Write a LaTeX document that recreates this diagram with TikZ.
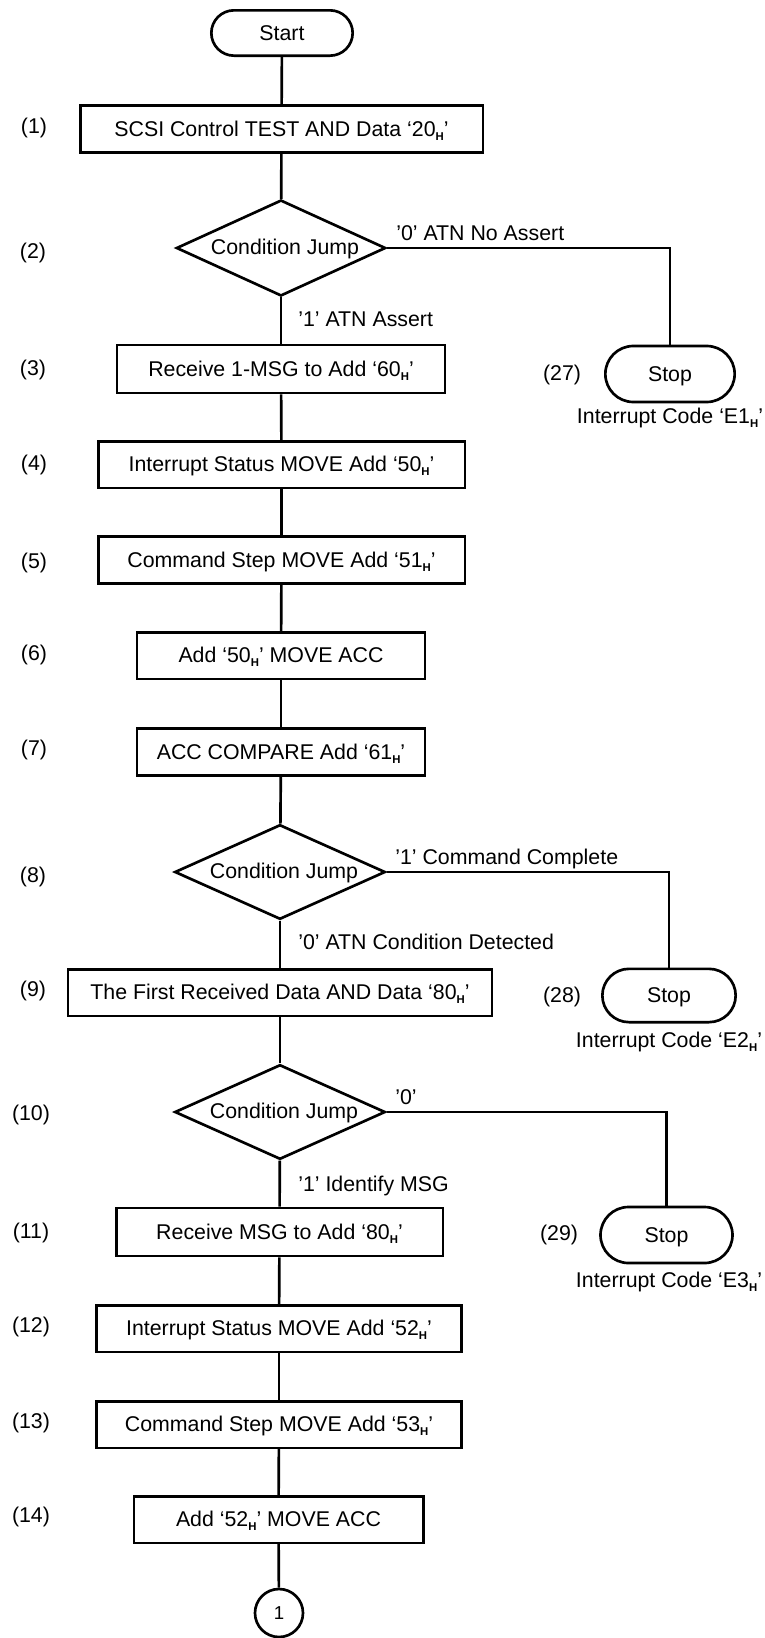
\documentclass[tikz,border=0pt]{standalone}
\usepackage{fontspec}
\setmainfont{Liberation Sans}
\usetikzlibrary{shapes.geometric,shapes.misc}
\newcommand{\Hs}{\raisebox{-3pt}{\fontsize{8.5}{8.5}\selectfont\bfseries H}}
\begin{document}
\begin{tikzpicture}[x=0.75pt,y=-0.75pt,
  every node/.style={font=\fontsize{16}{19}\selectfont},
  stepbox/.style={draw, line width=2pt, rectangle, inner sep=0pt, text height=11pt, text depth=0pt, minimum height=35pt},
  term/.style={draw, line width=2pt, rounded rectangle, inner sep=0pt, text height=11pt, text depth=0pt},
  cond/.style={draw, line width=2pt, diamond, inner sep=0pt, aspect=2.2, text height=9pt, text depth=0pt},
  conn/.style={line width=2pt},
  lbl/.style={inner sep=0pt},
  num/.style={inner sep=0pt}]
\useasboundingbox (0,0) rectangle (764,1638);
% main column
\node[term, minimum width=106pt, minimum height=34pt] (start) at (282,33) {Start};
\node[stepbox, minimum width=302pt] (b1) at (281.5,129) {SCSI Control TEST AND Data `20\Hs'};
\node[cond, minimum width=157pt, minimum height=72pt] (d2) at (281,248) {\hspace*{6pt}Condition Jump};
\node[stepbox, minimum width=246pt, minimum height=36pt] (b3) at (281,369) {Receive 1-MSG to Add `60\Hs'};
\node[stepbox, minimum width=275pt] (b4) at (281.5,464.5) {Interrupt Status MOVE Add `50\Hs'};
\node[stepbox, minimum width=275pt] (b5) at (281.5,560) {Command Step MOVE Add `51\Hs'};
\node[stepbox, minimum width=216pt] (b6) at (281,655.5) {Add `50\Hs' MOVE ACC};
\node[stepbox, minimum width=216pt] (b7) at (281,752) {ACC COMPARE Add `61\Hs'};
\node[cond, minimum width=158pt, minimum height=71pt] (d8) at (280,872) {\hspace*{6pt}Condition Jump};
\node[stepbox, minimum width=318pt] (b9) at (280,992.5) {The First Received Data AND Data `80\Hs'};
\node[cond, minimum width=158pt, minimum height=71pt] (d10) at (280,1112) {\hspace*{6pt}Condition Jump};
\node[stepbox, minimum width=245pt, minimum height=36pt] (b11) at (279.5,1232) {Receive MSG to Add `80\Hs'};
\node[stepbox, minimum width=274pt] (b12) at (279,1328.5) {Interrupt Status MOVE Add `52\Hs'};
\node[stepbox, minimum width=274pt] (b13) at (279,1424.5) {Command Step MOVE Add `53\Hs'};
\node[stepbox, minimum width=217pt] (b14) at (278.5,1519.5) {Add `52\Hs' MOVE ACC};
\node[draw, line width=2pt, circle, inner sep=0pt, minimum size=36pt, font=\fontsize{14}{16}\selectfont] (c1) at (279,1613) {1};
% stops
\node[term, minimum width=97pt, minimum height=42pt] (s27) at (670,374) {Stop};
\node[term, minimum width=100pt, minimum height=40pt] (s28) at (669,995.5) {Stop};
\node[term, minimum width=99pt, minimum height=42pt] (s29) at (666.5,1235) {Stop};
% connectors
\draw[conn] (start) -- (b1);
\draw[conn] (b1) -- (d2);
\draw[conn] (d2) -- (b3);
\draw[conn] (b3) -- (b4);
\draw[conn] (b4) -- (b5);
\draw[conn] (b5) -- (b6);
\draw[conn] (b6) -- (b7);
\draw[conn] (b7) -- (d8);
\draw[conn] (d8) -- (b9);
\draw[conn] (b9) -- (d10);
\draw[conn] (d10) -- (b11);
\draw[conn] (b11) -- (b12);
\draw[conn] (b12) -- (b13);
\draw[conn] (b13) -- (b14);
\draw[conn] (b14) -- (c1);
\draw[conn] (d2.east) -| (s27.north);
\draw[conn] (d8.east) -| (s28.north);
\draw[conn] (d10.east) -| (s29.north);
% branch labels
\node[lbl, anchor=base west] (a1) at (396,240) {'0' ATN No Assert};
\node[lbl, anchor=base west] (a2) at (298,326) {'1' ATN Assert};
\node[lbl, anchor=base west] (a3) at (395,864) {'1' Command Complete};
\node[lbl, anchor=base west] (a4) at (298,949) {'0' ATN Condition Detected};
\node[lbl, anchor=base west] (a5) at (395,1104) {'0'};
\node[lbl, anchor=base west] (a6) at (298,1191) {'1' Identify MSG};
% interrupt codes
\node[lbl, anchor=base] (e1) at (670,423) {Interrupt Code `E1\Hs'};
\node[lbl, anchor=base] (e2) at (669,1047) {Interrupt Code `E2\Hs'};
\node[lbl, anchor=base] (e3) at (669,1287) {Interrupt Code `E3\Hs'};
% step numbers
\node[num] (l1) at (34,128) {(1)};
\node[num] (l2) at (33,253) {(2)};
\node[num] (l3) at (33,370) {(3)};
\node[num] (l4) at (34,465) {(4)};
\node[num] (l5) at (34,563) {(5)};
\node[num] (l6) at (34,655) {(6)};
\node[num] (l7) at (34,750) {(7)};
\node[num] (l8) at (33,877) {(8)};
\node[num] (l9) at (33,991) {(9)};
\node[num] (l10) at (31,1115) {(10)};
\node[num] (l11) at (31,1233) {(11)};
\node[num] (l12) at (31,1327) {(12)};
\node[num] (l13) at (31,1423) {(13)};
\node[num] (l14) at (31,1517) {(14)};
\node[num] (l27) at (562,375) {(27)};
\node[num] (l28) at (562,997) {(28)};
\node[num] (l29) at (559,1235) {(29)};
\end{tikzpicture}
\end{document}
